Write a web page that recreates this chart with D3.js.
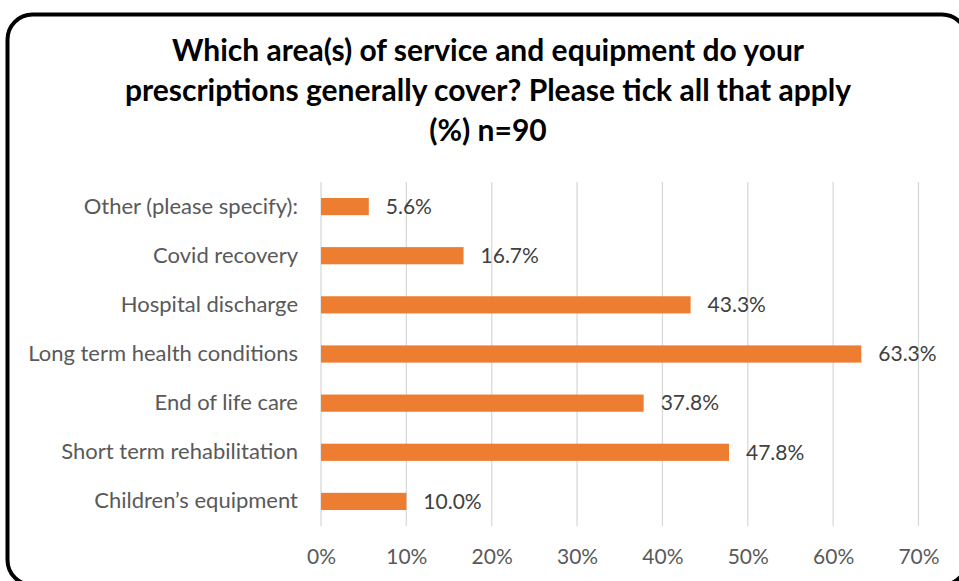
<!DOCTYPE html>
<html>
<head>
<meta charset="utf-8">
<script src="https://cdn.jsdelivr.net/npm/d3@7"></script>
<style>
  html, body { margin: 0; padding: 0; background: #fff; }
  svg { display: block; }
</style>
</head>
<body>
<svg id="chart" width="959" height="581"></svg>
<script>
// Survey responses: share of prescribers covering each area
const categories = [
  "Other (please specify):",
  "Covid recovery",
  "Hospital discharge",
  "Long term health conditions",
  "End of life care",
  "Short term rehabilitation",
  "Children\u2019s equipment"
];
const values = [5.6, 16.7, 43.3, 63.3, 37.8, 47.8, 10.0];
const tickValues = [0, 10, 20, 30, 40, 50, 60, 70];
const titleLines = [
  "Which area(s) of service and equipment do your",
  "prescriptions generally cover? Please tick all that apply",
  "(%) n=90"
];

const svg = d3.select("#chart");
const font = "Lato, 'Open Sans', sans-serif";

// Chart frame (runs past the right and bottom edges of the view)
svg.append("rect")
  .attr("x", 7.5).attr("y", 14.5)
  .attr("width", 959.5).attr("height", 570.5)
  .attr("rx", 25).attr("ry", 25)
  .attr("fill", "#fff")
  .attr("stroke", "#000")
  .attr("stroke-width", 4);

// Title
const title = svg.append("text")
  .attr("text-anchor", "middle")
  .attr("font-family", font)
  .attr("font-weight", "bold")
  .attr("font-size", 30)
  .attr("fill", "#000");
titleLines.forEach((t, i) => {
  title.append("tspan").attr("x", 488).attr("y", 61 + i * 40).text(t);
});

const plot = { left: 321, right: 918.5, top: 182, bottom: 526 };

const x = d3.scaleLinear().domain([0, 70]).range([plot.left, plot.right]);
const y = d3.scaleBand().domain(categories).range([plot.top, plot.bottom]).paddingInner(0.65).paddingOuter(0.325);

// Vertical gridlines
svg.append("g")
  .selectAll("line")
  .data(tickValues)
  .join("line")
  .attr("x1", d => x(d)).attr("x2", d => x(d))
  .attr("y1", plot.top).attr("y2", plot.bottom)
  .attr("stroke", "#d9d9d9")
  .attr("stroke-width", 1.3);

// X axis tick labels
const xAxis = d3.axisBottom(x)
  .tickValues(tickValues)
  .tickFormat(d => d + "%")
  .tickSize(0)
  .tickPadding(0);
const gx = svg.append("g")
  .attr("transform", `translate(0,564)`)
  .call(xAxis);
gx.select(".domain").remove();
gx.selectAll("text")
  .attr("y", 0)
  .attr("dy", 0)
  .attr("font-family", font)
  .attr("font-size", 21)
  .attr("fill", "#595959");

// Category labels
const yAxis = d3.axisLeft(y).tickSize(0).tickPadding(0);
const gy = svg.append("g")
  .attr("transform", `translate(${plot.left - 23},0)`)
  .call(yAxis);
gy.select(".domain").remove();
gy.selectAll("text")
  .attr("font-family", font)
  .attr("font-size", 22)
  .attr("fill", "#595959");

// Bars
svg.append("g")
  .selectAll("rect")
  .data(categories)
  .join("rect")
  .attr("x", x(0))
  .attr("y", c => y(c))
  .attr("width", (c, i) => x(values[i]) - x(0))
  .attr("height", y.bandwidth())
  .attr("fill", "#ED7D31");

// Value labels
svg.append("g")
  .selectAll("text")
  .data(categories)
  .join("text")
  .attr("x", (c, i) => x(values[i]) + 17)
  .attr("y", c => y(c) + y.bandwidth() / 2)
  .attr("dy", "0.35em")
  .attr("font-family", font)
  .attr("font-size", 21)
  .attr("fill", "#404040")
  .text((c, i) => values[i].toFixed(1) + "%");
</script>
</body>
</html>
